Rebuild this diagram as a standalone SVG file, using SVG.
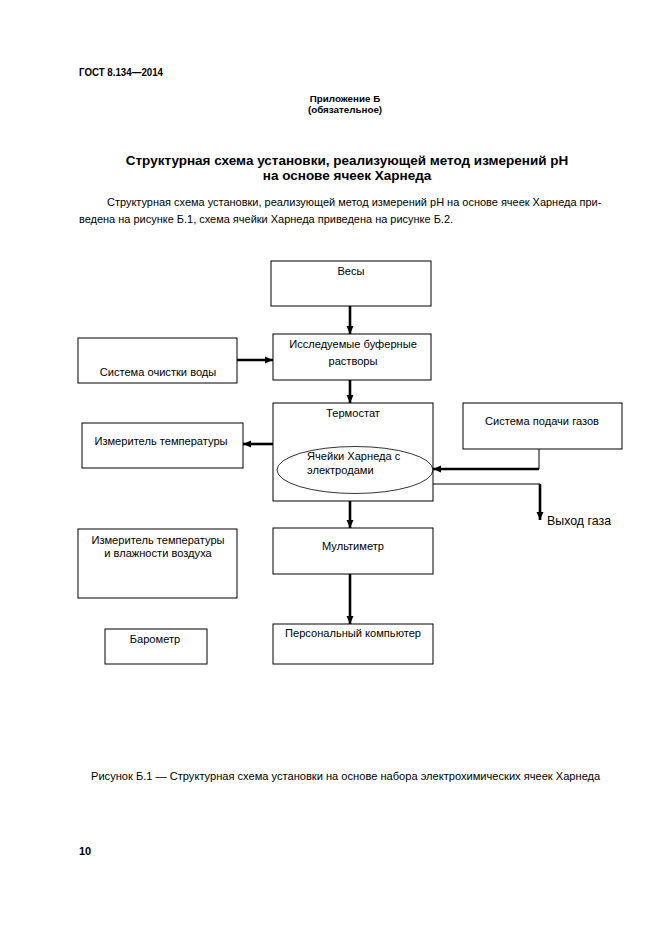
<svg xmlns="http://www.w3.org/2000/svg" width="661" height="935" viewBox="0 0 661 935">
<style>
text{font-family:"Liberation Sans",Arial,sans-serif;fill:#000}
.b{font-weight:bold}
.box{fill:#fff;stroke:#000;stroke-width:1}
.lbl{font-size:11.1px}
.c{text-anchor:middle}
.thick{stroke:#000;stroke-width:2.6;fill:none}
.thin{stroke:#000;stroke-width:1;fill:none}
</style>
<defs>
<marker id="ah" markerUnits="userSpaceOnUse" markerWidth="10" markerHeight="10" viewBox="0 0 10 10" refX="9" refY="5" orient="auto">
<path d="M1,1.5 L9,5 L1,8.5 Z" fill="#000"/>
</marker>
</defs>
<rect width="661" height="935" fill="#fff"/>
<g id="page-text">
<text x="79" y="76" class="b" font-size="10.8" textLength="84" lengthAdjust="spacingAndGlyphs">ГОСТ 8.134—2014</text>
<text x="345" y="102" class="b c" font-size="9.8">Приложение Б</text>
<text x="345" y="113" class="b c" font-size="9.8">(обязательное)</text>
<text x="347" y="165" class="b c" font-size="13.5">Структурная схема установки, реализующей метод измерений pH</text>
<text x="347" y="180" class="b c" font-size="13.5">на основе ячеек Харнеда</text>
<text x="107" y="206" font-size="10.98">Структурная схема установки, реализующей метод измерений pH на основе ячеек Харнеда при-</text>
<text x="79" y="223" font-size="10.98">ведена на рисунке Б.1, схема ячейки Харнеда приведена на рисунке Б.2.</text>
<text x="91" y="780" font-size="11.1">Рисунок Б.1 — Структурная схема установки на основе набора электрохимических ячеек Харнеда</text>
<text x="79" y="855" class="b" font-size="11">10</text>
</g>
<g id="connectors">
<line class="thick" x1="350" y1="306" x2="350" y2="334" marker-end="url(#ah)"/>
<line class="thick" x1="237" y1="360" x2="273" y2="360" marker-end="url(#ah)"/>
<line class="thick" x1="350" y1="380" x2="350" y2="403" marker-end="url(#ah)"/>
<line class="thick" x1="273" y1="444" x2="243" y2="444" marker-end="url(#ah)"/>
<polyline class="thin" points="539,449 539,469"/>
<line class="thick" x1="539" y1="469" x2="433" y2="469" marker-end="url(#ah)"/>
<polyline class="thin" points="433,484 540,484"/>
<line class="thick" x1="540" y1="484" x2="540" y2="520" marker-end="url(#ah)"/>
<line class="thick" x1="350" y1="501" x2="350" y2="528" marker-end="url(#ah)"/>
<line class="thick" x1="350" y1="574" x2="350" y2="624" marker-end="url(#ah)"/>
</g>
<g id="vesy">
<rect class="box" x="271" y="261" width="160" height="45"/>
<text class="lbl c" x="351" y="275">Весы</text>
</g>
<g id="buffer">
<rect class="box" x="273" y="334" width="158" height="46"/>
<text class="lbl c" x="353" y="348">Исследуемые буферные</text>
<text class="lbl c" x="353" y="365">растворы</text>
</g>
<g id="water">
<rect class="box" x="78" y="338" width="159" height="45"/>
<text class="lbl c" x="158" y="376">Система очистки воды</text>
</g>
<g id="thermostat">
<rect class="box" x="273" y="403" width="160" height="98"/>
<text class="lbl c" x="353" y="417">Термостат</text>
</g>
<g id="cells">
<ellipse cx="355" cy="470" rx="78" ry="23.5" fill="none" stroke="#000" stroke-width="0.8"/>
<text class="lbl" x="307" y="460">Ячейки Харнеда с</text>
<text class="lbl" x="307" y="474">электродами</text>
</g>
<g id="tempmeter">
<rect class="box" x="82" y="423" width="161" height="45"/>
<text class="lbl c" x="161" y="445">Измеритель температуры</text>
</g>
<g id="gas">
<rect class="box" x="463" y="403" width="159" height="46"/>
<text class="lbl c" x="542" y="425">Система подачи газов</text>
</g>
<g id="gasout">
<text x="547" y="525" font-size="12.4">Выход газа</text>
</g>
<g id="humid">
<rect class="box" x="78" y="529" width="159" height="69"/>
<text class="lbl c" x="158" y="544">Измеритель температуры</text>
<text class="lbl c" x="158" y="557">и влажности воздуха</text>
</g>
<g id="barometer">
<rect class="box" x="105" y="629" width="102" height="35"/>
<text class="lbl c" x="155" y="643">Барометр</text>
</g>
<g id="multimeter">
<rect class="box" x="273" y="528" width="160" height="46"/>
<text class="lbl c" x="353" y="550">Мультиметр</text>
</g>
<g id="pc">
<rect class="box" x="273" y="624" width="160" height="40"/>
<text class="lbl c" x="353" y="637">Персональный компьютер</text>
</g>
</svg>
